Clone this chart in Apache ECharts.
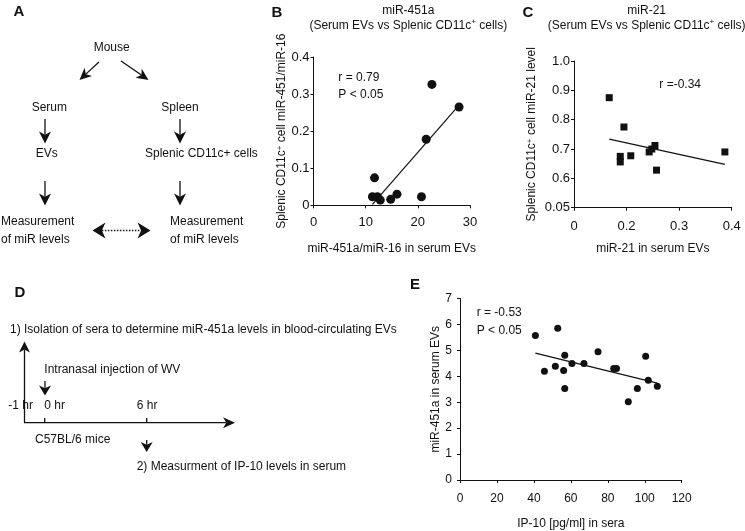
<!DOCTYPE html>
<html><head><meta charset="utf-8">
<script src="https://cdn.jsdelivr.net/npm/echarts@6/dist/echarts.min.js"></script>
<style>html,body{margin:0;padding:0;background:#fff}#c{width:745px;height:531px}</style>
</head><body><div id="c"></div>
<script>
// ---- Panel B: miR-451a (serum EVs vs splenic CD11c+ cells)
const bX = [22.7, 27.9, 21.6, 11.7, 11.3, 12.25, 12.8, 14.8, 16.0, 20.7];
const bY = [0.326, 0.265, 0.178, 0.074, 0.023, 0.023, 0.014, 0.016, 0.030, 0.023];
// ---- Panel C: miR-21
const cX = [0.167, 0.195, 0.188, 0.188, 0.208, 0.243, 0.248, 0.254, 0.257, 0.387];
const cY = [0.875, 0.775, 0.675, 0.656, 0.677, 0.690, 0.700, 0.712, 0.628, 0.690];
const cXTickLabels = ['0', '0.2', '0.3', '0.4'];
const cYTickLabels = ['0.05', '0.6', '0.7', '0.8', '0.9', '1.0'];
// ---- Panel E: IP-10 vs miR-451a
const eX = [40.8, 45.7, 51.6, 52.9, 56.7, 56.1, 56.7, 60.6, 67.1, 74.7, 83.2, 84.7, 91.1, 96.0, 100.5, 101.9, 106.8];
const eY = [5.57, 4.19, 4.39, 5.85, 4.81, 4.22, 3.53, 4.49, 4.49, 4.95, 4.30, 4.30, 3.02, 3.53, 4.77, 3.85, 3.62];

const FONT = '"Liberation Sans", Arial, Helvetica, sans-serif';
const INK = '#111';

function fit(xs, ys) {
  const n = xs.length;
  const mx = xs.reduce((a, b) => a + b, 0) / n, my = ys.reduce((a, b) => a + b, 0) / n;
  let sxy = 0, sxx = 0;
  for (let i = 0; i < n; i++) { sxy += (xs[i] - mx) * (ys[i] - my); sxx += (xs[i] - mx) ** 2; }
  const b = sxy / sxx, a = my - b * mx;
  const x0 = Math.min(...xs), x1 = Math.max(...xs);
  return [[x0, a + b * x0], [x1, a + b * x1]];
}
function pairs(xs, ys) { return xs.map((x, i) => [x, ys[i]]); }

function arrowEls(x1, y1, x2, y2, hl, hw, dash, bothEnds) {
  const dx = x2 - x1, dy = y2 - y1, L = Math.hypot(dx, dy), ux = dx / L, uy = dy / L, px = -uy, py = ux;
  function head(tx, ty, sx, sy) {
    const bx = tx - sx * hl, by = ty - sy * hl;
    const nx = tx - sx * hl * 0.72, ny = ty - sy * hl * 0.72;
    return { poly: { type: 'polygon', silent: true, shape: { points: [[tx, ty], [bx + px * hw / 2, by + py * hw / 2], [nx, ny], [bx - px * hw / 2, by - py * hw / 2]] }, style: { fill: INK } }, nx, ny };
  }
  const h2 = head(x2, y2, ux, uy);
  let sx = x1, sy = y1;
  const els = [h2.poly];
  if (bothEnds) { const h1 = head(x1, y1, -ux, -uy); els.push(h1.poly); sx = h1.nx; sy = h1.ny; }
  els.push({ type: 'line', silent: true, shape: { x1: sx, y1: sy, x2: h2.nx, y2: h2.ny }, style: { stroke: INK, lineWidth: 1.3, lineDash: dash || null } });
  return els;
}
function txt(x, y, text, opt) {
  opt = opt || {};
  return { type: 'text', silent: true, x, y, style: { text, fill: INK, font: (opt.bold ? 'bold ' : '') + (opt.size || 12) + 'px ' + FONT, align: opt.align || 'left', verticalAlign: 'middle', rich: opt.rich } };
}
const supRich = { sup: { fontSize: 8, verticalAlign: 'top', fontFamily: FONT, fill: INK, color: INK } };

const graphics = [
  // panel letters
  txt(19, 12, 'A', { bold: true, size: 15, align: 'center' }),
  txt(277, 13, 'B', { bold: true, size: 15, align: 'center' }),
  txt(528, 13, 'C', { bold: true, size: 15, align: 'center' }),
  txt(20, 293, 'D', { bold: true, size: 15, align: 'center' }),
  txt(415, 285, 'E', { bold: true, size: 15, align: 'center' }),
  // Panel A flow
  txt(111.7, 47.5, 'Mouse', { align: 'center' }),
  ...arrowEls(99, 62, 79.5, 80, 12, 11),
  ...arrowEls(121, 61, 148.5, 80, 12, 11),
  txt(49.3, 107.3, 'Serum', { align: 'center' }),
  txt(180, 107.3, 'Spleen', { align: 'center' }),
  ...arrowEls(45, 119, 45, 143.5, 12, 12),
  ...arrowEls(180, 119, 180, 143.5, 12, 12),
  txt(46.7, 154, 'EVs', { align: 'center' }),
  txt(145, 154, 'Splenic CD11c+ cells'),
  ...arrowEls(45, 181, 45, 205.5, 12, 12),
  ...arrowEls(180, 181, 180, 205.5, 12, 12),
  txt(1, 222, 'Measurement'),
  txt(1, 239.5, 'of miR levels'),
  txt(170, 222, 'Measurement'),
  txt(170, 239.5, 'of miR levels'),
  ...arrowEls(92.5, 230.5, 150.5, 230.5, 13, 16, [1.5, 1.5], true),
  // Panel D timeline
  txt(10, 330, '1) Isolation of sera to determine miR-451a levels in blood-circulating EVs'),
  ...arrowEls(24.5, 422.7, 24.5, 341.5, 11, 11),
  txt(44.3, 370, 'Intranasal injection of WV'),
  ...arrowEls(45, 381, 45, 395.5, 10, 12),
  txt(8.3, 406, '-1 hr'),
  txt(44.3, 406, '0 hr'),
  txt(136.7, 406, '6 hr'),
  ...arrowEls(24, 422.7, 235, 422.7, 12, 11),
  { type: 'line', silent: true, shape: { x1: 44.7, y1: 422.7, x2: 44.7, y2: 418 }, style: { stroke: INK, lineWidth: 1.3 } },
  { type: 'line', silent: true, shape: { x1: 146.7, y1: 422.7, x2: 146.7, y2: 418 }, style: { stroke: INK, lineWidth: 1.3 } },
  txt(35, 439.3, 'C57BL/6 mice'),
  ...arrowEls(146.7, 440, 146.7, 452, 10, 12),
  txt(136.7, 466.7, '2) Measurment of IP-10 levels in serum'),
  // annotations
  txt(338.3, 77.3, 'r = 0.79'),
  txt(338.3, 95, 'P < 0.05'),
  txt(659.3, 84.3, 'r =-0.34'),
  txt(476.7, 312.7, 'r = -0.53'),
  txt(476.7, 330.7, 'P < 0.05'),
];

function axisBase(extra) {
  return Object.assign({
    type: 'value',
    axisLine: { show: true, lineStyle: { color: INK, width: 1 } },
    axisTick: { show: true, length: 3, lineStyle: { color: INK, width: 1 } },
    splitLine: { show: false },
    axisLabel: { color: INK, fontFamily: FONT, fontSize: 13 },
    nameLocation: 'middle',
    nameTextStyle: { color: INK, fontFamily: FONT, fontSize: 12, rich: supRich },
  }, extra);
}

const chart = echarts.init(document.getElementById('c'), null, { renderer: 'canvas' });
chart.setOption({
  animation: false,
  backgroundColor: '#fff',
  textStyle: { fontFamily: FONT },
  title: [
    { text: 'miR-451a\n(Serum EVs vs Splenic CD11c{sup|+} cells)', left: 403.3, top: -2, textAlign: 'center',
      textStyle: { fontFamily: FONT, fontSize: 12, fontWeight: 'normal', color: INK, lineHeight: 15, rich: supRich } },
    { text: 'miR-21\n(Serum EVs vs Splenic CD11c{sup|+} cells)', left: 641.7, top: -2, textAlign: 'center',
      textStyle: { fontFamily: FONT, fontSize: 12, fontWeight: 'normal', color: INK, lineHeight: 15, rich: supRich } },
  ],
  grid: [
    { left: 313.5, top: 57, width: 156.5, height: 148.3 },
    { left: 574, top: 61, width: 157.7, height: 146.7 },
    { left: 460, top: 298.5, width: 221.7, height: 181.5 },
  ],
  xAxis: [
    axisBase({ gridIndex: 0, min: 0, max: 30, interval: 10, name: 'miR-451a/miR-16 in serum EVs', nameGap: 37,
      axisLabel: { color: INK, fontFamily: FONT, fontSize: 13, margin: 11 } }),
    axisBase({ gridIndex: 1, min: 0.1, max: 0.4, interval: 0.1, name: 'miR-21 in serum EVs', nameGap: 34.5,
      axisLabel: { color: INK, fontFamily: FONT, fontSize: 13, margin: 12, formatter: (v, i) => cXTickLabels[i] } }),
    axisBase({ gridIndex: 2, min: 0, max: 120, interval: 20, name: 'IP-10 [pg/ml] in sera', nameGap: 38,
      axisLabel: { color: INK, fontFamily: FONT, fontSize: 12, margin: 13 } }),
  ],
  yAxis: [
    axisBase({ gridIndex: 0, min: 0, max: 0.4, interval: 0.1, name: 'Splenic CD11c{sup|+} cell miR-451/miR-16', nameGap: 25,
      axisLabel: { color: INK, fontFamily: FONT, fontSize: 13, margin: 4 } }),
    axisBase({ gridIndex: 1, min: 0.5, max: 1.0, interval: 0.1, name: 'Splenic CD11c{sup|+} cell miR-21 level', nameGap: 36.5,
      axisLabel: { color: INK, fontFamily: FONT, fontSize: 13, margin: 4, formatter: (v, i) => cYTickLabels[i] } }),
    axisBase({ gridIndex: 2, min: 0, max: 7, interval: 1, name: 'miR-451a in serum EVs', nameGap: 18.5,
      axisLabel: { color: INK, fontFamily: FONT, fontSize: 12, margin: 8 } }),
  ],
  series: [
    { type: 'scatter', xAxisIndex: 0, yAxisIndex: 0, data: pairs(bX, bY), symbol: 'circle', symbolSize: 9, itemStyle: { color: INK, opacity: 1 } },
    { type: 'line', xAxisIndex: 0, yAxisIndex: 0, data: fit(bX, bY), symbol: 'none', lineStyle: { color: INK, width: 1.2 } },
    { type: 'scatter', xAxisIndex: 1, yAxisIndex: 1, data: pairs(cX, cY), symbol: 'rect', symbolSize: 7, itemStyle: { color: INK, opacity: 1 } },
    { type: 'line', xAxisIndex: 1, yAxisIndex: 1, data: fit(cX, cY), symbol: 'none', lineStyle: { color: INK, width: 1.2 } },
    { type: 'scatter', xAxisIndex: 2, yAxisIndex: 2, data: pairs(eX, eY), symbol: 'circle', symbolSize: 7, itemStyle: { color: INK, opacity: 1 } },
    { type: 'line', xAxisIndex: 2, yAxisIndex: 2, data: fit(eX, eY), symbol: 'none', lineStyle: { color: INK, width: 1.2 } },
  ],
  graphic: graphics,
});
</script></body></html>
